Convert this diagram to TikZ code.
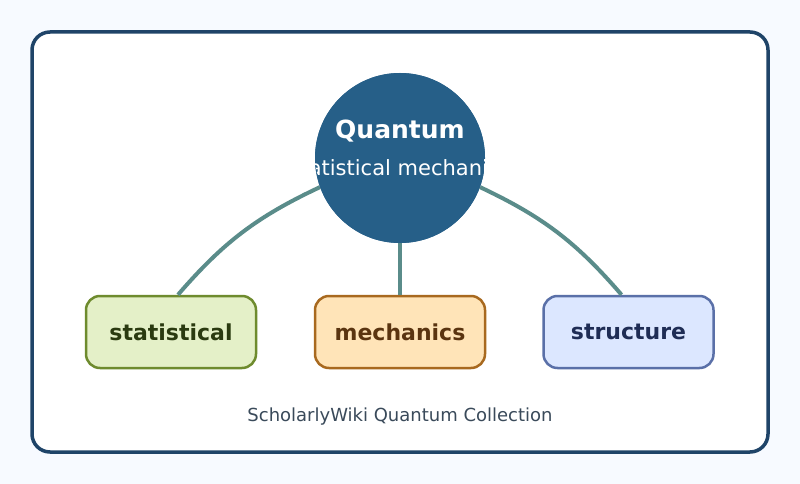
\documentclass[tikz,border=0pt]{standalone}
\usepackage{fontspec}
\setmainfont{DejaVu Sans}
\usetikzlibrary{positioning}
\definecolor{pagebg}{HTML}{F7FAFF}
\definecolor{frameblue}{HTML}{1F4468}
\definecolor{hubblue}{HTML}{265F88}
\definecolor{linkteal}{HTML}{5A8C8A}
\definecolor{capgray}{HTML}{3A4A5A}
\definecolor{statfill}{HTML}{E4F0C8}
\definecolor{statdraw}{HTML}{6E8B2E}
\definecolor{stattext}{HTML}{2A3A10}
\definecolor{mechfill}{HTML}{FFE4B8}
\definecolor{mechdraw}{HTML}{A8691F}
\definecolor{mechtext}{HTML}{5A3410}
\definecolor{strucfill}{HTML}{DCE7FF}
\definecolor{strucdraw}{HTML}{5A70A8}
\definecolor{structext}{HTML}{1F2D55}
\tikzset{
  leaf/.style={draw, line width=2.5pt, rounded corners=14pt, minimum width=170pt,
    minimum height=72pt, font=\fontsize{22pt}{26pt}\selectfont\bfseries},
  link/.style={draw=linkteal, line width=4pt},
}
\begin{document}
\begin{tikzpicture}[x=1pt,y=-1pt]
  \fill[pagebg] (0,0) rectangle (800,484);
  \useasboundingbox (0,0) rectangle (800,484);
  \draw[frameblue, fill=white, line width=3.5pt, rounded corners=18pt] (32,32) rectangle (768,452);

  \node[leaf, fill=statfill, draw=statdraw, text=stattext] (stat) at (171,332) {statistical};
  \node[leaf, fill=mechfill, draw=mechdraw, text=mechtext] (mech) at (400,332) {mechanics};
  \node[leaf, fill=strucfill, draw=strucdraw, text=structext] (struc) at (628.5,332) {structure};

  \node[circle, fill=hubblue, minimum size=170pt, inner sep=0pt] (hub) at (400,158) {};
  \draw[link] (hub.200) to[bend right=12] ([xshift=7pt]stat.north);
  \draw[link] (hub.south) -- (mech.north);
  \draw[link] (hub.-20) to[bend left=12] ([xshift=-7pt]struc.north);
  \fill[hubblue] (hub) circle (85);

  \begin{scope}
    \clip (hub) circle (85);
    \node[text=white, font=\fontsize{25pt}{30pt}\selectfont\bfseries] (title) at (400,131) {Quantum};
    \node[text=white, font=\fontsize{21pt}{25pt}\selectfont] (sub) at (400,168) {statistical mechanics};
  \end{scope}

  \node[text=capgray, font=\fontsize{18pt}{22pt}\selectfont] (cap) at (400,417) {ScholarlyWiki Quantum Collection};
\end{tikzpicture}
\end{document}
